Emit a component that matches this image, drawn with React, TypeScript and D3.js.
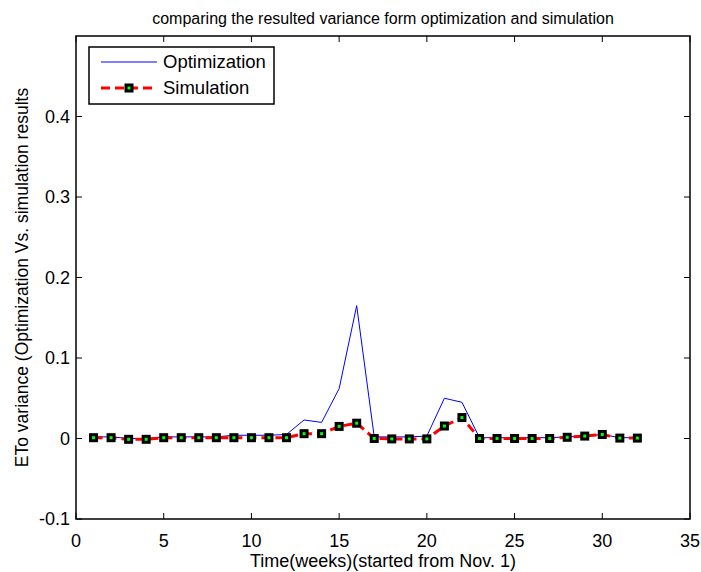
import React from "react";
import * as d3 from "d3";

const weeks = [1,2,3,4,5,6,7,8,9,10,11,12,13,14,15,16,17,18,19,20,21,22,23,24,25,26,27,28,29,30,31,32];
const optimization = [0.002,0.002,0.0,0.0,0.002,0.002,0.002,0.002,0.004,0.004,0.004,0.005,0.023,0.020,0.062,0.165,0.002,0.002,0.002,0.003,0.050,0.045,0.001,0.001,0.001,0.001,0.001,0.002,0.003,0.005,0.001,0.001];
const simulation = [0.001,0.001,-0.001,-0.001,0.001,0.001,0.001,0.001,0.001,0.001,0.001,0.001,0.006,0.006,0.015,0.019,0.0,-0.0005,-0.0005,-0.0005,0.0155,0.026,0.0,0.0,0.0,0.0,0.0,0.0015,0.003,0.005,0.0005,0.0005];
const xTicks = [0,5,10,15,20,25,30,35];
const yTicks = [-0.1,0,0.1,0.2,0.3,0.4];

const W = 701, H = 572;
const L = 76, R = 690, T = 36, B = 519;
const FONT = "'Liberation Sans', Arial, sans-serif";

export default function App() {
  const x = d3.scaleLinear().domain([0, 35]).range([L, R]);
  const y = d3.scaleLinear().domain([-0.1, 0.5]).range([B, T]);
  const line = d3.line<number>().x((_, i) => x(weeks[i])).y((d) => y(d));
  const tickLen = 6;
  return (
    <div style={{ position: "absolute", left: 0, top: 0 }}>
      <svg width={W} height={H} style={{ display: "block", background: "#fff" }}>
        <rect x={0} y={0} width={W} height={H} fill="#fff" />
        <text x={(L + R) / 2} y={24} textAnchor="middle" fontFamily={FONT} fontSize={16}>
          comparing the resulted variance form optimization and simulation
        </text>
        {xTicks.map((t) => (
          <g key={"x" + t}>
            <line x1={x(t)} x2={x(t)} y1={B} y2={B - tickLen} stroke="#000" />
            <line x1={x(t)} x2={x(t)} y1={T} y2={T + tickLen} stroke="#000" />
            <text x={x(t)} y={547} textAnchor="middle" fontFamily={FONT} fontSize={18}>{t}</text>
          </g>
        ))}
        {yTicks.map((t) => (
          <g key={"y" + t}>
            <line x1={L} x2={L + tickLen} y1={y(t)} y2={y(t)} stroke="#000" />
            <line x1={R} x2={R - tickLen} y1={y(t)} y2={y(t)} stroke="#000" />
            <text x={70} y={y(t)} dy="0.35em" textAnchor="end" fontFamily={FONT} fontSize={18}>{String(+t.toFixed(1))}</text>
          </g>
        ))}
        <text x={(L + R) / 2} y={567} textAnchor="middle" fontFamily={FONT} fontSize={18}>
          Time(weeks)(started from Nov. 1)
        </text>
        <text transform={`translate(28,${(T + B) / 2}) rotate(-90)`} textAnchor="middle" fontFamily={FONT} fontSize={17.5}>
          ETo variance (Optimization Vs. simulation results
        </text>
        <path d={line(optimization) || ""} fill="none" stroke="#0000ff" strokeWidth={1} />
        <path d={line(simulation) || ""} fill="none" stroke="#ff0000" strokeWidth={3} strokeDasharray="9,5" />
        {simulation.map((v, i) => (
          <rect key={i} x={x(weeks[i]) - 3} y={y(v) - 3} width={6} height={6} fill="#00ff00" stroke="#000" strokeWidth={3} />
        ))}
        <rect x={L} y={T} width={R - L} height={B - T} fill="none" stroke="#000" strokeWidth={1.5} />
        <g>
          <rect x={89} y={47} width={185} height={57} fill="#fff" stroke="#000" strokeWidth={1.5} />
          <line x1={101} x2={157} y1={62} y2={62} stroke="#0000ff" strokeWidth={1} />
          <text x={163} y={62} dy="0.35em" fontFamily={FONT} fontSize={18.5}>Optimization</text>
          <line x1={101} x2={157} y1={88} y2={88} stroke="#ff0000" strokeWidth={3} strokeDasharray="9,5" />
          <rect x={126} y={85} width={6} height={6} fill="#00ff00" stroke="#000" strokeWidth={3} />
          <text x={163} y={88} dy="0.35em" fontFamily={FONT} fontSize={18.5}>Simulation</text>
        </g>
      </svg>
    </div>
  );
}
